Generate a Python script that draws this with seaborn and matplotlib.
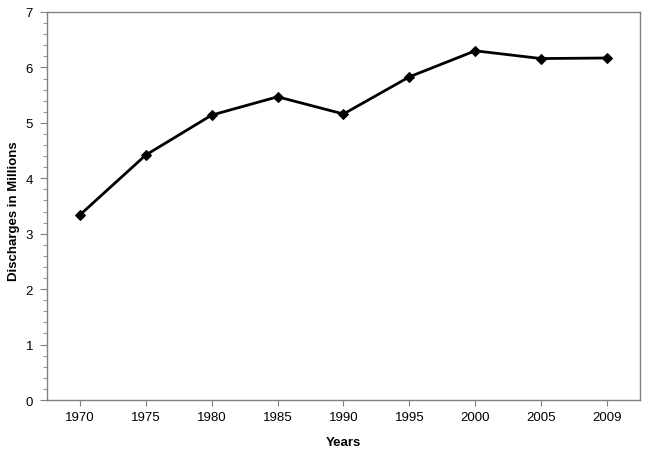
import matplotlib
matplotlib.use("Agg")
import matplotlib.pyplot as plt
import pandas as pd
import seaborn as sns
from matplotlib.ticker import MultipleLocator

years = ["1970", "1975", "1980", "1985", "1990", "1995", "2000", "2005", "2009"]
discharges = [3.34, 4.42, 5.14, 5.47, 5.16, 5.83, 6.30, 6.16, 6.17]

sns.set_style("white")
plt.rcParams["font.family"] = ["Liberation Sans", "DejaVu Sans"]
plt.rcParams["text.color"] = "black"
plt.rcParams["axes.labelcolor"] = "black"
plt.rcParams["xtick.labelcolor"] = "black"
plt.rcParams["ytick.labelcolor"] = "black"

df = pd.DataFrame({"Years": years, "Discharges": discharges})
df["pos"] = range(len(df))

fig = plt.figure(figsize=(6.51, 4.56), dpi=100)
ax = fig.add_axes([0.0722, 0.1206, 0.9108, 0.8509])

sns.lineplot(data=df, x="pos", y="Discharges", ax=ax, color="black", linewidth=2,
             marker="D", markersize=5.5, markeredgecolor="black", markerfacecolor="black")

ax.set_xlim(-0.5, len(years) - 0.5)
ax.set_ylim(0, 7)
ax.set_xticks(df["pos"])
ax.set_xticklabels(years)
ax.yaxis.set_major_locator(MultipleLocator(1))
ax.yaxis.set_minor_locator(MultipleLocator(0.2))

for s in ax.spines.values():
    s.set_color("#808080")
    s.set_linewidth(1)

ax.tick_params(axis="y", which="major", direction="out", length=5, color="#808080",
               labelsize=9.5, labelcolor="black", left=True, pad=5)
ax.tick_params(axis="y", which="minor", direction="out", length=3, color="#808080", left=True)
ax.tick_params(axis="x", which="major", direction="out", length=4, color="#808080",
               labelsize=9.5, labelcolor="black", bottom=True, pad=4)

ax.set_xlabel("Years", fontsize=9.5, fontweight="bold", color="black")
ax.set_ylabel("Discharges in Millions", fontsize=9.5, fontweight="bold", color="black")
ax.xaxis.set_label_coords(0.5, -0.092)
ax.yaxis.set_label_coords(-0.045, 0.49)

fig.savefig("out.png", dpi=100)
